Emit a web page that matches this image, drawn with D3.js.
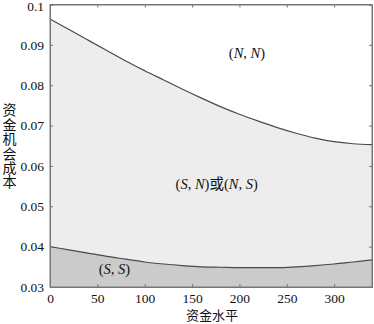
<!DOCTYPE html>
<html><head><meta charset="utf-8">
<script src="https://cdn.jsdelivr.net/npm/d3@7"></script>
<style>body{margin:0;background:#fff}svg{display:block}</style>
</head><body>
<svg id="c" width="374" height="324"></svg>
<script>
const xs = [0,20,40,60,80,100,120,140,160,180,200,220,240,260,280,300,320,340];
const upper = [0.0964,0.0938,0.0912,0.0886,0.0860,0.0836,0.0813,0.0790,0.0768,0.0747,0.0728,0.0711,0.0695,0.0681,0.0669,0.0660,0.0655,0.0653];
const lower = [0.0400,0.0392,0.0384,0.0376,0.0369,0.0362,0.0357,0.0353,0.0350,0.0349,0.0348,0.0348,0.0348,0.0350,0.0353,0.0357,0.0362,0.0367];
const xTicks = [0,50,100,150,200,250,300];
const yTicks = [0.03,0.04,0.05,0.06,0.07,0.08,0.09,0.1];
const yTickLabels = ["0.03","0.04","0.05","0.06","0.07","0.08","0.09","0.1"];
const labels = [
  {x:208,y:0.0867,parts:[["(",0],["N",1],[", ",0],["N",1],[")",0]]},
  {x:176,y:0.0543,parts:[["(",0],["S",1],[", ",0],["N",1],[")",0],["或",2],["(",0],["N",1],[", ",0],["S",1],[")",0]]},
  {x:68,y:0.0332,parts:[["(",0],["S",1],[", ",0],["S",1],[")",0]]}
];

const svg = d3.select("#c");
const L=50,R=372,T=4.5,B=287;
const x = d3.scaleLinear().domain([0,340]).range([L,R]);
const y = d3.scaleLinear().domain([0.03,0.1]).range([B,T]);
const data = xs.map((d,i)=>({x:d,u:upper[i],l:lower[i]}));
const serif = "'Liberation Serif','DejaVu Serif','Times New Roman',serif";
const cjk = "'Noto Sans CJK SC',sans-serif";

// regions
svg.append("path").datum(data)
  .attr("d", d3.area().x(d=>x(d.x)).y0(y(0.03)).y1(d=>y(d.u)).curve(d3.curveMonotoneX))
  .attr("fill","#ededed");
svg.append("path").datum(data)
  .attr("d", d3.area().x(d=>x(d.x)).y0(y(0.03)).y1(d=>y(d.l)).curve(d3.curveMonotoneX))
  .attr("fill","#cbcbcb");
const line = k => d3.line().x(d=>x(d.x)).y(d=>y(d[k])).curve(d3.curveMonotoneX);
svg.append("path").datum(data).attr("d",line("u")).attr("fill","none").attr("stroke","#4a4a4a").attr("stroke-width",1.2);
svg.append("path").datum(data).attr("d",line("l")).attr("fill","none").attr("stroke","#4a4a4a").attr("stroke-width",1.2);

// axes (inward ticks, MATLAB-like box)
const gb = svg.append("g").attr("transform",`translate(0,${B})`).call(d3.axisBottom(x).tickValues(xTicks).tickSize(-3).tickPadding(6));
const gt = svg.append("g").attr("transform",`translate(0,${T})`).call(d3.axisTop(x).tickValues(xTicks).tickSize(-3).tickFormat(""));
const gl = svg.append("g").attr("transform",`translate(${L},0)`).call(d3.axisLeft(y).tickValues(yTicks).tickSize(-3).tickPadding(6).tickFormat((d,i)=>yTickLabels[i]));
const gr = svg.append("g").attr("transform",`translate(${R},0)`).call(d3.axisRight(y).tickValues(yTicks).tickSize(-3).tickFormat(""));
[gb,gt,gl,gr].forEach(g=>{
  g.attr("font-family",serif);
  g.select(".domain").attr("stroke","#777");
  g.selectAll(".tick line").attr("stroke","#777");
  g.selectAll("text").attr("font-family",serif).attr("font-size",13.5).attr("fill","#111");
});
gl.selectAll(".tick").filter(d=>d===0.1).select("text").attr("dy","0.45em");
svg.append("rect").attr("x",L).attr("y",T).attr("width",R-L).attr("height",B-T)
  .attr("fill","none").attr("stroke","#777").attr("stroke-width",1);

// axis titles
svg.append("text").attr("x",212).attr("y",320).attr("text-anchor","middle")
  .attr("font-family",cjk).attr("font-size",13).attr("fill","#111").text("资金水平");
svg.append("text").attr("x",9.5).attr("y",103)
  .attr("writing-mode","tb").style("writing-mode","vertical-rl").style("text-orientation","upright")
  .attr("font-family",cjk).attr("font-size",14).attr("letter-spacing",0.4).attr("fill","#111").text("资金机会成本");

// region labels
labels.forEach(lb=>{
  const t = svg.append("text").attr("x",x(lb.x)).attr("y",y(lb.y)).attr("text-anchor","middle")
    .attr("font-size",14.5).attr("fill","#111");
  lb.parts.forEach(p=>{
    t.append("tspan").text(p[0])
      .attr("font-family",p[1]===2?cjk:serif)
      .attr("font-style",p[1]===1?"italic":"normal");
  });
});
</script>
</body></html>
